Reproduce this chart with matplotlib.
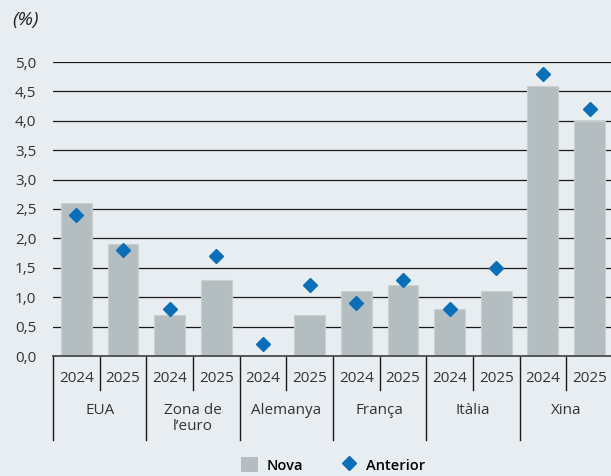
import matplotlib.pyplot as plt
from matplotlib.patches import Patch
from matplotlib.lines import Line2D

plt.rcParams['font.family'] = ['Open Sans', 'DejaVu Sans']

groups = ['EUA', 'Zona de\nl\u2019euro', 'Alemanya', 'Fran\u00e7a', 'It\u00e0lia', 'Xina']
years = ['2024', '2025']
nova = [2.6, 1.9, 0.7, 1.3, 0.0, 0.7, 1.1, 1.2, 0.8, 1.1, 4.6, 4.0]
anterior = [2.4, 1.8, 0.8, 1.7, 0.2, 1.2, 0.9, 1.3, 0.8, 1.5, 4.8, 4.2]
yticks = [0, 0.5, 1, 1.5, 2, 2.5, 3, 3.5, 4, 4.5, 5]

bg = '#e8edf2'
barcol = '#b4bec1'
dcol = '#0b6eb8'
txt = '#333333'

fig = plt.figure(figsize=(6.11, 4.76), dpi=100, facecolor=bg)
ax = fig.add_axes([53/611, 1-356/476, 558/611, 294/476], facecolor=bg)

xs = list(range(len(nova)))
ax.bar(xs, nova, width=0.66, color=barcol, edgecolor='#c9d1d3', linewidth=0.8, zorder=2)
ax.plot(xs, anterior, linestyle='none', marker='D', markersize=7.5, color=dcol, zorder=3)

ax.set_xlim(-0.5, 11.46)
ax.set_ylim(0, 5)
ax.set_yticks(yticks)
ax.set_yticklabels([('%.1f' % v).replace('.', ',') for v in yticks], color=txt, fontsize=11)
ax.tick_params(axis='y', length=0, pad=12)
ax.set_xticks([])
for v in yticks[1:]:
    ax.axhline(v, color='#1a1a1a', linewidth=0.9, zorder=1)
for s in ['top', 'right', 'left']:
    ax.spines[s].set_visible(False)
ax.spines['bottom'].set_color('#555555')
ax.spines['bottom'].set_linewidth(1.4)

tr = ax.get_xaxis_transform()
for i in range(len(nova)):
    ax.text(i, -23/294, years[i % 2], ha='center', va='center', fontsize=11, color=txt, transform=tr)
    x0 = i - 0.5
    depth = 84/294 if i % 2 == 0 else 34/294
    ax.add_line(Line2D([x0, x0], [0, -depth], transform=tr, clip_on=False, color='#1a1a1a', linewidth=1.0))
for g, name in enumerate(groups):
    ax.text(2*g + 0.5, -47/294, name, ha='center', va='top', fontsize=11, color=txt,
            transform=tr, linespacing=1.05)

fig.text(12/611, 1-20/476, '(%)', fontsize=14, style='italic', color='#222222', va='center')

handles = [Patch(facecolor=barcol, edgecolor='none'),
           Line2D([], [], linestyle='none', marker='D', markersize=7.5, color=dcol)]
fig.legend(handles, ['Nova', 'Anterior'], loc='center', bbox_to_anchor=(333/611, 1-465/476),
           ncol=2, frameon=False, handlelength=1.2, handleheight=1.2,
           columnspacing=2.5, handletextpad=0.6, prop={'weight': 'semibold', 'size': 10.5})

fig.savefig('out.png', dpi=100, facecolor=bg)
